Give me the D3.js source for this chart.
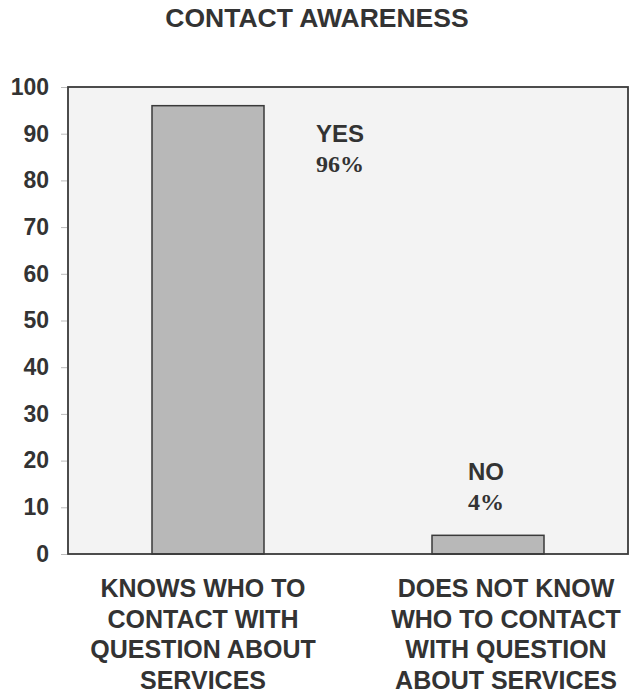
<!DOCTYPE html>
<html>
<head>
<meta charset="utf-8">
<script src="https://cdn.jsdelivr.net/npm/d3@7"></script>
<style>
  html, body { margin: 0; padding: 0; background: #ffffff; }
  svg { display: block; }
</style>
</head>
<body>
<svg id="chart" width="631" height="698"></svg>
<script>
// Survey result: share of respondents who know whom to contact
const categories = [
  ["KNOWS WHO TO", "CONTACT WITH", "QUESTION ABOUT", "SERVICES"],
  ["DOES NOT KNOW", "WHO TO CONTACT", "WITH QUESTION", "ABOUT SERVICES"]
];
const categoryKeys = ["knows", "doesNotKnow"];
const values = [96, 4];
const answerLabels = ["YES", "NO"];
const percentLabels = ["96%", "4%"];
const yTicks = [0, 10, 20, 30, 40, 50, 60, 70, 80, 90, 100];
const title = "CONTACT AWARENESS";

const svg = d3.select("#chart");
const plot = { left: 68, right: 628, top: 87, bottom: 554 };
const textColor = "#333333";
const sans = "Liberation Sans, Arial, sans-serif";
const serif = "Liberation Serif, Times New Roman, serif";

const x = d3.scaleBand()
  .domain(categoryKeys)
  .range([plot.left, plot.right])
  .paddingInner(0.6)
  .paddingOuter(0.3);

const y = d3.scaleLinear()
  .domain([0, 100])
  .range([plot.bottom, plot.top]);

// Title
svg.append("text")
  .attr("x", 317)
  .attr("y", 27)
  .attr("text-anchor", "middle")
  .attr("font-family", sans)
  .attr("font-weight", "bold")
  .attr("font-size", 26.5)
  .attr("fill", textColor)
  .text(title);

// Plot background
svg.append("rect")
  .attr("x", plot.left)
  .attr("y", plot.top)
  .attr("width", plot.right - plot.left)
  .attr("height", plot.bottom - plot.top)
  .attr("fill", "#f3f3f3");

// Y axis
const yAxis = d3.axisLeft(y)
  .tickValues(yTicks)
  .tickSize(6)
  .tickPadding(12);

const yg = svg.append("g")
  .attr("transform", `translate(${plot.left - 1},0)`)
  .call(yAxis);
yg.select(".domain").remove();
yg.selectAll(".tick line").attr("stroke", "#bbbbbb");
yg.selectAll(".tick text")
  .attr("font-family", sans)
  .attr("font-weight", "bold")
  .attr("font-size", 23)
  .attr("fill", textColor);

// Bars
const data = categoryKeys.map((k, i) => ({
  key: k, value: values[i], answer: answerLabels[i], pct: percentLabels[i], lines: categories[i]
}));

svg.selectAll("rect.bar")
  .data(data)
  .join("rect")
  .attr("class", "bar")
  .attr("x", d => x(d.key))
  .attr("y", d => y(d.value))
  .attr("width", x.bandwidth())
  .attr("height", d => y(0) - y(d.value))
  .attr("fill", "#b8b8b8")
  .attr("stroke", "#3a3a3a")
  .attr("stroke-width", 1.5);

// Plot frame
svg.append("rect")
  .attr("x", plot.left)
  .attr("y", plot.top)
  .attr("width", plot.right - plot.left)
  .attr("height", plot.bottom - plot.top)
  .attr("fill", "none")
  .attr("stroke", "#3a3a3a")
  .attr("stroke-width", 1.8);

// Answer annotations: the tall bar gets its label beside it, the short one above it
function annotationPos(d) {
  const cx = x(d.key) + x.bandwidth() / 2;
  if (d.key === "knows") return [cx + 132, y(d.value) + 36];
  return [cx - 2, y(d.value) - 55];
}

const annot = svg.selectAll("g.annot")
  .data(data)
  .join("g")
  .attr("class", "annot")
  .attr("transform", d => `translate(${annotationPos(d)})`);

annot.append("text")
  .attr("text-anchor", "middle")
  .attr("font-family", sans)
  .attr("font-weight", "bold")
  .attr("font-size", 24)
  .attr("fill", textColor)
  .text(d => d.answer);

annot.append("text")
  .attr("y", 30)
  .attr("text-anchor", "middle")
  .attr("font-family", serif)
  .attr("font-weight", "bold")
  .attr("font-size", 24)
  .attr("fill", textColor)
  .text(d => d.pct);

// Category labels below the plot
const cat = svg.selectAll("text.cat")
  .data(data)
  .join("text")
  .attr("class", "cat")
  .attr("text-anchor", "middle")
  .attr("font-family", sans)
  .attr("font-weight", "bold")
  .attr("font-size", 25)
  .attr("fill", textColor);

cat.selectAll("tspan")
  .data(d => d.lines.map(l => ({ l, cx: x(d.key) + x.bandwidth() / 2 + (d.key === "knows" ? -5 : 18) })))
  .join("tspan")
  .attr("x", t => t.cx)
  .attr("y", (t, i) => 597 + i * 30.5)
  .text(t => t.l);
</script>
</body>
</html>
